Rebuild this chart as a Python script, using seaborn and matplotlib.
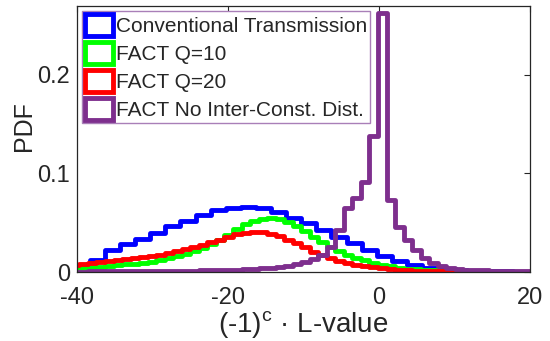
import numpy as np
import pandas as pd
import seaborn as sns
import matplotlib
matplotlib.use("Agg")
import matplotlib.pyplot as plt
from matplotlib.patches import Patch

# histogram bins
conv_start = -40.3
conv_width = 2.0
conv_pdf = [0.006, 0.012, 0.022, 0.028, 0.034, 0.040, 0.047, 0.052, 0.058, 0.063,
            0.065, 0.066, 0.065, 0.061, 0.055, 0.050, 0.043, 0.036, 0.029, 0.022,
            0.016, 0.011, 0.007, 0.004, 0.003, 0.002, 0.0015, 0.001, 0.0007, 0.0005,
            0.0003]

fact_start = -40.81
fact_width = 1.13
q10_pdf = [0.004, 0.004, 0.005, 0.005, 0.006, 0.007, 0.008, 0.008, 0.009, 0.010,
           0.012, 0.014, 0.016, 0.018, 0.021, 0.024, 0.028, 0.032, 0.038, 0.044,
           0.049, 0.052, 0.054, 0.055, 0.054, 0.051, 0.047, 0.042, 0.036, 0.030,
           0.025, 0.021, 0.017, 0.014, 0.012, 0.009, 0.007, 0.006, 0.004, 0.003,
           0.003, 0.002, 0.002, 0.001, 0.001, 0.001, 0.0008, 0.0006, 0.0005, 0.0004,
           0.0003, 0.0003, 0.0002, 0.0002]
q20_pdf = [0.007, 0.008, 0.009, 0.010, 0.011, 0.012, 0.013, 0.014, 0.015, 0.016,
           0.017, 0.019, 0.021, 0.023, 0.025, 0.027, 0.030, 0.033, 0.036, 0.039,
           0.040, 0.041, 0.041, 0.039, 0.037, 0.033, 0.029, 0.025, 0.020, 0.017,
           0.014, 0.011, 0.009, 0.007, 0.006, 0.005, 0.004, 0.003, 0.002, 0.002,
           0.0015, 0.001, 0.001, 0.0008, 0.0006, 0.0005, 0.0004, 0.0003, 0.0003, 0.0002,
           0.0002, 0.0001, 0.0001, 0.0001]
nodist_pdf = [0.0005, 0.0005, 0.0006, 0.0006, 0.0007, 0.0007, 0.0008, 0.0008, 0.0009, 0.001,
              0.001, 0.0011, 0.0012, 0.0013, 0.0014, 0.0016, 0.0018, 0.002, 0.0022, 0.0025,
              0.003, 0.0035, 0.004, 0.0045, 0.005, 0.006, 0.008, 0.010, 0.013, 0.017,
              0.025, 0.043, 0.065, 0.075, 0.091, 0.138, 0.263, 0.073, 0.046, 0.033,
              0.022, 0.014, 0.009, 0.006, 0.004, 0.003, 0.0025, 0.002, 0.0017, 0.0015,
              0.0013, 0.0012, 0.001, 0.001]

labels = ["Conventional Transmission", "FACT Q=10", "FACT Q=20",
          "FACT No Inter-Const. Dist."]
colors = ["#0000FF", "#00FF00", "#FF0000", "#7E2F8E"]

sns.set_style("white")
plt.rcParams["font.family"] = ["Liberation Sans", "DejaVu Sans"]
plt.rcParams["axes.unicode_minus"] = False
plt.rcParams["mathtext.fontset"] = "custom"
plt.rcParams["mathtext.rm"] = "Liberation Sans"

fig = plt.figure(figsize=(5.5, 3.41), dpi=100)
ax = fig.add_axes([0.14, 0.2023, 0.8236, 0.7801])

series = [(conv_start, conv_width, conv_pdf),
          (fact_start, fact_width, q10_pdf),
          (fact_start, fact_width, q20_pdf),
          (fact_start, fact_width, nodist_pdf)]

# one step-outline histogram per transmission scheme
for (start, width, pdf), col in zip(series, colors):
    n = len(pdf)
    edges = [start + width * i for i in range(n + 1)]
    centers = [e + width / 2 for e in edges[:-1]]
    df = pd.DataFrame({"x": centers, "w": pdf})
    sns.histplot(data=df, x="x", weights="w", bins=edges, element="step",
                 fill=False, color=col, linewidth=3.5, ax=ax)

ax.set_xlim(-40, 20)
ax.set_ylim(0, 0.27)
ax.set_xticks([-40, -20, 0, 20])
ax.set_xticklabels(["-40", "-20", "0", "20"])
ax.set_yticks([0, 0.1, 0.2])
ax.set_yticklabels(["0", "0.1", "0.2"])
ax.tick_params(direction="in", top=True, right=True, length=4, width=0.8,
               labelsize=17, colors="#262626")
ax.tick_params(axis="x", pad=11)
ax.tick_params(axis="y", pad=5)
for s in ax.spines.values():
    s.set_color("#262626")
    s.set_linewidth(0.9)
ax.set_xlabel("(-1)$^\\mathregular{c}$ · L-value", fontsize=20, color="#262626", labelpad=0)
ax.set_ylabel("PDF", fontsize=18, color="#262626")
ax.yaxis.set_label_coords(-0.09, 0.55)

handles = [Patch(facecolor="white", edgecolor=c, linewidth=3.5) for c in colors]
leg = ax.legend(handles, labels, loc="upper left", fontsize=15, frameon=True,
                fancybox=False, framealpha=1, edgecolor="#A97FB8",
                handlelength=1.35, handleheight=1.2, handletextpad=0.1,
                labelspacing=0.3, borderpad=0.15, borderaxespad=0.25)
leg.get_frame().set_linewidth(1.0)

fig.savefig("out.png", dpi=100)
